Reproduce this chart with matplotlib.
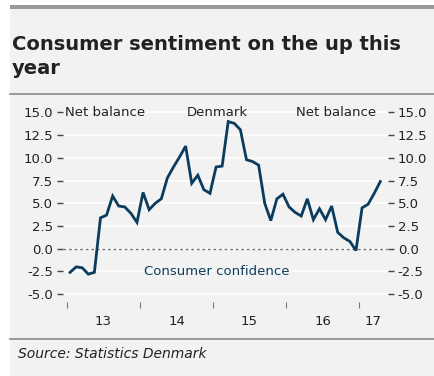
import matplotlib
matplotlib.use('Agg')
import matplotlib.pyplot as plt
from matplotlib.ticker import FixedLocator, FormatStrFormatter
from matplotlib.lines import Line2D
from matplotlib.patches import Rectangle

# Danish consumer confidence, monthly Jan 2013 - Apr 2017 (net balance)
start_year = 2013
confidence = [-2.6, -2.0, -2.1, -2.8, -2.6, 3.4, 3.7, 5.8, 4.7, 4.6, 3.9, 2.9,
              6.2, 4.3, 5.0, 5.5, 7.8, 9.0, 10.1, 11.3, 7.2, 8.1, 6.5, 6.1,
              9.0, 9.1, 14.0, 13.8, 13.1, 9.8, 9.6, 9.2, 5.0, 3.1, 5.5, 6.0,
              4.6, 4.0, 3.6, 5.5, 3.2, 4.4, 3.2, 4.7, 1.8, 1.2, 0.8, -0.2,
              4.5, 4.9, 6.1, 7.4]
year_ticks = [2013, 2014, 2015, 2016, 2017]
year_labels = ['13', '14', '15', '16', '17']
y_ticks = [15.0, 12.5, 10.0, 7.5, 5.0, 2.5, 0.0, -2.5, -5.0]

months = [start_year + (i + 0.5) / 12 for i in range(len(confidence))]

bg = '#f2f2f2'
navy = '#0b3c5d'
txt = '#222222'

fig = plt.figure(figsize=(4.34, 3.76), dpi=100)
fig.patch.set_facecolor('white')

W, H = 434.0, 376.0
# grey panel + frame lines
fig.add_artist(Rectangle((10 / W, 0), 1, 1 - 5 / H, transform=fig.transFigure,
                         facecolor=bg, edgecolor='none', zorder=-10))
fig.add_artist(Rectangle((10 / W, 1 - 9 / H), 1, 4 / H, transform=fig.transFigure,
                         facecolor='#999999', edgecolor='none'))
for yy in (94, 339):
    fig.add_artist(Line2D([10 / W, 1], [1 - yy / H, 1 - yy / H], transform=fig.transFigure,
                          color='#8a8a8a', lw=1.2))

fig.text(12 / W, 1 - 50 / H, 'Consumer sentiment on the up this', fontsize=14,
         fontweight='bold', color=txt, va='baseline', ha='left')
fig.text(12 / W, 1 - 74 / H, 'year', fontsize=14, fontweight='bold', color=txt,
         va='baseline', ha='left')
fig.text(18 / W, 1 - 358 / H, 'Source: Statistics Denmark', fontsize=10,
         style='italic', color=txt, va='baseline', ha='left')

ax = fig.add_axes([63 / W, 1 - 302.3 / H, 325 / W, 200.7 / H])
ax.set_facecolor(bg)
for s in ax.spines.values():
    s.set_visible(False)

ax.plot(months, confidence, color=navy, lw=2.0, solid_joinstyle='miter', zorder=3)
ax.axhline(0, color='#777777', lw=1, dashes=(2, 2), zorder=2)

ax.set_xlim(2012.945, 2017.397)
ax.set_ylim(-5.9, 16.2)

ax.yaxis.set_major_locator(FixedLocator(y_ticks))
ax.yaxis.set_major_formatter(FormatStrFormatter('%.1f'))
ax.grid(axis='y', color='white', lw=1.2, zorder=1)
ax.set_axisbelow(True)
ax.tick_params(axis='y', which='major', left=True, right=True, labelleft=True,
               labelright=True, length=4, width=1, color='#444444', pad=3,
               labelsize=9.5, labelcolor=txt)

ax.xaxis.set_major_locator(FixedLocator(year_ticks))
ax.xaxis.set_major_formatter(plt.NullFormatter())
label_pos = [y + 0.5 for y in year_ticks[:-1]] + [(2017 + 2017.397) / 2]
ax.xaxis.set_minor_locator(FixedLocator(label_pos))
ax.set_xticklabels(year_labels, minor=True)
ax.tick_params(axis='x', which='major', length=4, width=0.8, color='#777777')
ax.tick_params(axis='x', which='minor', length=0, pad=9, labelsize=9.5, labelcolor=txt)

ax.text(0.006, 15.0, 'Net balance', transform=ax.get_yaxis_transform(), ha='left',
        va='center', fontsize=9.5, color=txt)
ax.text(0.474, 15.0, 'Denmark', transform=ax.get_yaxis_transform(), ha='center',
        va='center', fontsize=9.5, color=txt)
ax.text(0.963, 15.0, 'Net balance', transform=ax.get_yaxis_transform(), ha='right',
        va='center', fontsize=9.5, color=txt)
ax.text(0.474, -2.55, 'Consumer confidence', transform=ax.get_yaxis_transform(),
        ha='center', va='center', fontsize=9.5, color=navy)

fig.savefig('out.png', dpi=100, facecolor=fig.get_facecolor())
